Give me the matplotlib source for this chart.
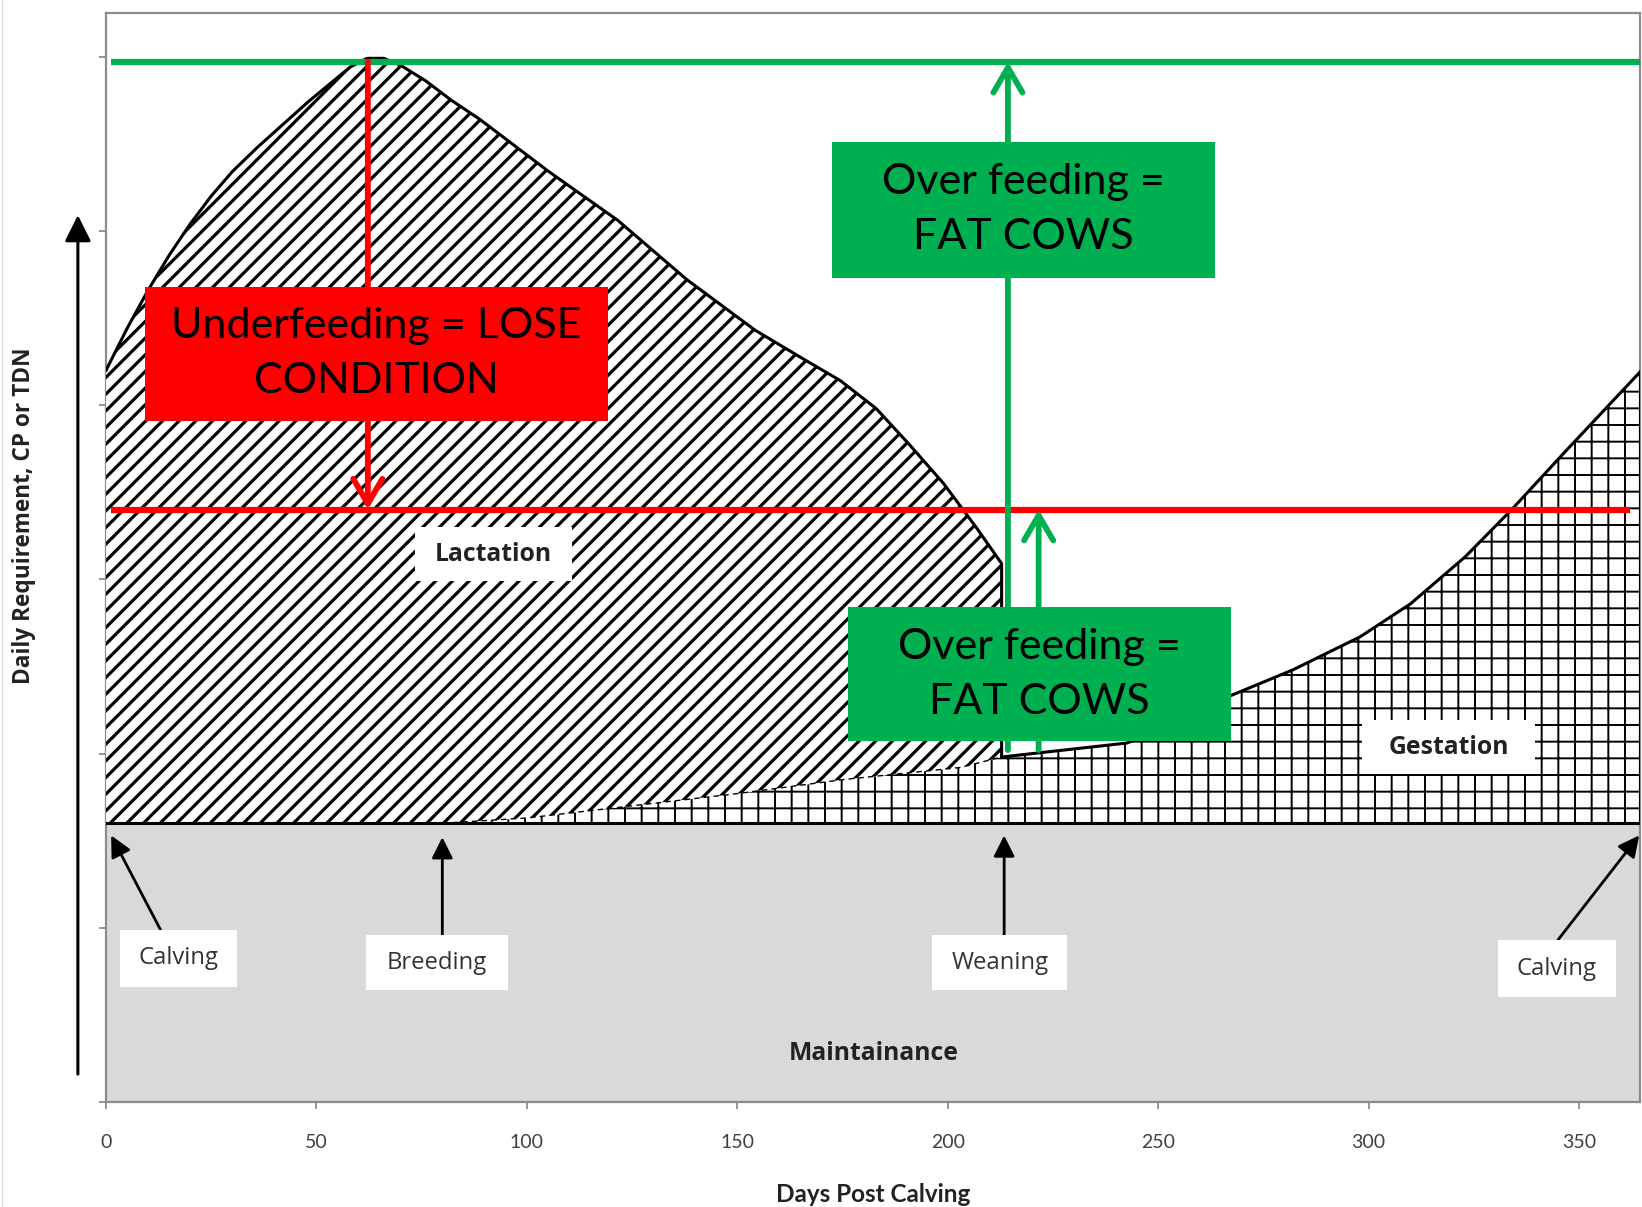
import matplotlib
matplotlib.use('agg')
import matplotlib.pyplot as plt
import numpy as np
from matplotlib.patches import Rectangle
from matplotlib.lines import Line2D

########
# Data #
########

# lactation requirement curve (days post calving, requirement units)
lact_days = [0, 5, 10, 15, 20, 25, 30, 36, 42, 48, 54, 58, 62, 66, 70, 76, 82, 88.8,
             105.2, 121.6, 138, 154.2, 166, 174.5, 183, 191, 199, 207, 212.8]
lact_req = [4.20, 4.44, 4.66, 4.86, 5.04, 5.20, 5.34, 5.48, 5.61, 5.74, 5.86, 5.94,
            5.99, 5.99, 5.95, 5.86, 5.75, 5.64, 5.34, 5.06, 4.72, 4.43, 4.26, 4.14,
            3.98, 3.77, 3.55, 3.29, 3.09]

# gestation requirement curve
gest_days = [80, 100, 125, 150, 175, 203, 212.8, 242.5, 255, 267, 282, 298, 310, 323,
             334, 347, 364.5]
gest_req = [1.60, 1.63, 1.70, 1.77, 1.85, 1.92, 1.98, 2.06, 2.17, 2.33, 2.48, 2.67,
            2.86, 3.13, 3.40, 3.74, 4.19]

maint_level = 1.6
under_level = 3.40
over_level = 5.97
weaning_day = 212.8

xticks = [0, 50, 100, 150, 200, 250, 300, 350]

green = '#00b050'
red = '#ff0000'
gray = '#8c8c8c'

##########
# Figure #
##########

fig = plt.figure(figsize=(16.42, 12.07), dpi=100)
ax = fig.add_axes([0.0646, 0.0870, 0.9342, 0.9022])
ax.set_xlim(0, 364.5)
ax.set_ylim(0, 6.25)

# maintainance band
ax.axhspan(0, maint_level, color='#d9d9d9', zorder=1, lw=0)

# gestation area (thin grid hatch)
with plt.rc_context({'hatch.linewidth': 1.4}):
    gest_fill = ax.fill_between(gest_days, maint_level, gest_req, facecolor='white',
                                edgecolor='black', hatch='+', linewidth=0, zorder=2)
    if hasattr(gest_fill, 'set_hatch_linewidth'):
        gest_fill.set_hatch_linewidth(1.4)

# lactation area (down to gestation curve), thick diagonal hatch
gd = np.array(gest_days)
gr = np.array(gest_req)
early = gd <= weaning_day
poly_x = list(lact_days) + [weaning_day] + list(gd[early][::-1]) + [0]
poly_y = list(lact_req) + [gr[early][-1]] + list(gr[early][::-1]) + [maint_level]
with plt.rc_context({'hatch.linewidth': 2.3}):
    lact_fill = ax.fill(poly_x, poly_y, facecolor='white', edgecolor='black', hatch='//',
                        linewidth=0, zorder=3)[0]
    if hasattr(lact_fill, 'set_hatch_linewidth'):
        lact_fill.set_hatch_linewidth(2.3)

# outlines
ax.plot(list(lact_days) + [weaning_day], list(lact_req) + [gr[early][-1]],
        color='black', lw=2.2, zorder=4, solid_joinstyle='round')
ax.plot(gd[gd >= weaning_day], gr[gd >= weaning_day], color='black', lw=2.2, zorder=4,
        solid_joinstyle='round')
ax.plot(gd[early], gr[early], color='black', lw=1.0, ls=(0, (4, 3)), zorder=4)
ax.axhline(maint_level, color='black', lw=2.2, zorder=4)
ax.plot([gest_days[-1]] * 2, [maint_level, gest_req[-1]], color='black', lw=1.5, zorder=4)

# white label boxes
def label_box(x0, x1, y0, y1, txt, bold=False, z=5):
    ax.add_patch(Rectangle((x0, y0), x1 - x0, y1 - y0, facecolor='white',
                           edgecolor='none', zorder=z))
    ax.text((x0 + x1) / 2, (y0 + y1) / 2, txt, ha='center', va='center',
            fontsize=17.8 if bold else 17.2, family='Open Sans',
            fontweight='bold' if bold else 'normal',
            color='#222222' if bold else '#333333', zorder=z + 0.1)

label_box(73.4, 110.7, 2.99, 3.30, 'Lactation', bold=True)
label_box(298.5, 339.6, 1.88, 2.19, 'Gestation', bold=True)
ax.text(182.3, 0.28, 'Maintainance', ha='center', va='center', fontsize=17.8,
        family='Open Sans', fontweight='bold', color='#222222', zorder=5)

# event arrows + labels
black_arrow = dict(arrowstyle='-|>', color='black', lw=2, mutation_scale=32,
                   shrinkA=0, shrinkB=0)
ax.annotate('', xy=(1.2, 1.53), xytext=(12.9, 0.99), arrowprops=black_arrow, zorder=5)
ax.annotate('', xy=(79.9, 1.52), xytext=(79.9, 0.96), arrowprops=black_arrow, zorder=5)
ax.annotate('', xy=(213.4, 1.53), xytext=(213.4, 0.96), arrowprops=black_arrow, zorder=5)
ax.annotate('', xy=(364.3, 1.53), xytext=(345.0, 0.93), arrowprops=black_arrow, zorder=5)
label_box(3.2, 31.1, 0.66, 0.99, 'Calving', z=6)
label_box(61.7, 95.5, 0.64, 0.96, 'Breeding', z=6)
label_box(196.3, 228.4, 0.64, 0.96, 'Weaning', z=6)
label_box(330.8, 358.7, 0.60, 0.93, 'Calving', z=6)

# feeding level lines
ax.plot([1.2, 364.5], [over_level] * 2, color=green, lw=4.5, solid_capstyle='butt', zorder=6)
ax.plot([1.2, 362], [under_level] * 2, color=red, lw=4.5, solid_capstyle='butt', zorder=6)

def chevron(x, y0, y1, c):
    ax.annotate('', xy=(x, y1), xytext=(x, y0), zorder=6,
                arrowprops=dict(arrowstyle='->,head_length=0.6,head_width=0.35',
                                color=c, lw=4.2, mutation_scale=30,
                                shrinkA=0, shrinkB=0, capstyle='round',
                                joinstyle='round'))

chevron(62.2, over_level, under_level, red)
chevron(214.3, 2.02, over_level, green)
chevron(221.6, 2.02, under_level, green)

# coloured boxes
def big_box(x0, x1, y0, y1, txt, c):
    ax.add_patch(Rectangle((x0, y0), x1 - x0, y1 - y0, facecolor=c,
                           edgecolor='none', zorder=7))
    ax.text((x0 + x1) / 2, (y0 + y1) / 2, txt, ha='center', va='center',
            fontsize=31, family='Lato', color='black', linespacing=1.55, zorder=8)

big_box(9.2, 119.2, 3.91, 4.68, 'Underfeeding = LOSE\nCONDITION', red)
big_box(172.6, 263.4, 4.73, 5.51, 'Over feeding =\nFAT COWS', green)
big_box(176.4, 267.2, 2.07, 2.84, 'Over feeding =\nFAT COWS', green)

# axes styling
ax.set_xticks(xticks)
ax.set_xticklabels([str(t) for t in xticks], family='Lato', fontsize=14, color='#404040')
ax.set_yticks(range(7))
ax.set_yticklabels([])
ax.tick_params(direction='out', length=5, width=1.3, color=gray, pad=18)
for sp in ax.spines.values():
    sp.set_color(gray)
    sp.set_linewidth(1.6)

ax.set_xlabel('Days Post Calving', family='Lato', fontsize=17.5, fontweight='bold',
              color='#222222', va='center')
ax.xaxis.set_label_coords(0.5, -0.085)
ax.set_ylabel('Daily Requirement, CP or TDN', family='Open Sans', fontsize=16.3,
              fontweight='bold', color='#222222', va='center')
ax.yaxis.set_label_coords(-0.0535, 0.538)

# long arrow beside the y axis
ax.annotate('', xy=(-6.7, 5.09), xytext=(-6.7, 0.16), annotation_clip=False,
            arrowprops=dict(arrowstyle='-|>', color='black', lw=2.2,
                            mutation_scale=40, shrinkA=0, shrinkB=0, clip_on=False))

fig.add_artist(Line2D([0.001, 0.001], [0, 1], color='#dddddd', lw=1))

fig.savefig('out.png', dpi=100)
